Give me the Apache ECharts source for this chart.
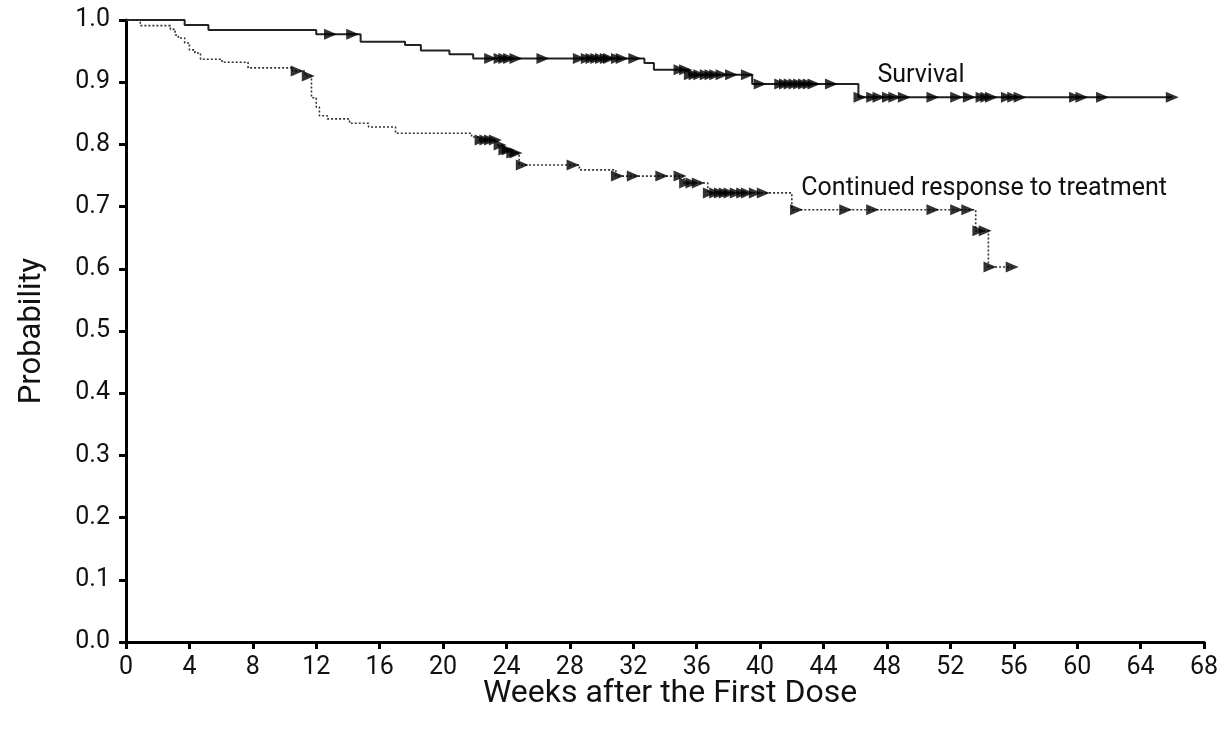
<!DOCTYPE html>
<html>
<head>
<meta charset="utf-8">
<script src="https://cdn.jsdelivr.net/npm/echarts@6/dist/echarts.min.js"></script>
<style>
html,body{margin:0;padding:0;background:#fff;}
#chart{width:1228px;height:731px;}
</style>
</head>
<body>
<div id="chart"></div>
<script>
// Kaplan-Meier step change points: [week, probability]
var survivalSteps = [
  [0,1.0],[3.7,0.992],[5.2,0.984],[12.0,0.977],[14.8,0.965],[17.6,0.960],
  [18.6,0.951],[20.4,0.945],[21.9,0.938],[32.7,0.931],[33.3,0.920],
  [35.5,0.912],[39.5,0.897],[46.2,0.876],[66.0,0.876]
];
var responseSteps = [
  [0,1.0],[0.9,0.991],[2.8,0.985],[3.1,0.976],[3.3,0.971],[3.7,0.963],
  [4.0,0.952],[4.35,0.947],[4.7,0.937],[6.05,0.932],[7.7,0.923],
  [10.5,0.918],[11.3,0.910],[11.7,0.875],[12.0,0.860],[12.2,0.846],
  [12.7,0.841],[14.1,0.834],[15.3,0.828],[17.0,0.818],[21.8,0.812],
  [22.3,0.807],[23.45,0.799],[23.85,0.791],[24.3,0.786],[24.8,0.767],
  [28.6,0.759],[30.9,0.749],[35.2,0.738],[36.7,0.722],[42.0,0.695],
  [53.6,0.661],[54.4,0.603],[55.9,0.603]
];
// Censoring times (weeks)
var survivalCensors = [
  12.9,14.3,23.0,23.6,23.9,24.2,24.6,26.3,28.6,29.1,29.4,29.7,30.0,30.3,30.5,
  31.0,31.3,32.1,34.95,35.3,35.6,35.9,36.2,36.6,36.9,37.2,37.6,38.2,39.2,
  40.0,41.3,41.6,41.9,42.2,42.5,42.8,43.1,43.4,44.5,46.3,47.1,47.5,48.1,48.5,
  49.1,50.9,52.4,53.2,54.0,54.3,54.6,55.6,56.0,56.4,59.9,60.3,61.6,66.0
];
var responseCensors = [
  10.8,11.5,22.4,22.7,23.0,23.3,23.6,23.9,24.1,24.4,24.6,25.0,28.2,
  31.0,32.0,33.8,34.95,35.3,35.7,36.1,36.8,37.2,37.5,37.8,38.1,38.5,38.9,
  39.2,39.7,40.2,42.3,45.4,47.1,50.9,52.4,53.1,53.8,54.2,54.5,55.9
];
var xTicks = {min:0, max:68, interval:4};
var yTicks = {min:0, max:1, interval:0.1};
var labels = [
  {text:'Survival', at:[47.4, 0.910]},
  {text:'Continued response to treatment', at:[42.6, 0.729]}
];

function valAt(steps, t){
  var v = steps[0][1];
  for (var i=0;i<steps.length;i++){ if (steps[i][0] <= t) v = steps[i][1]; }
  return v;
}
var survivalCensorPts = survivalCensors.map(function(t){return [t, valAt(survivalSteps,t)];});
var responseCensorPts = responseCensors.map(function(t){return [t, valAt(responseSteps,t)];});

var FONT = 'Roboto, "Liberation Sans", Arial, sans-serif';
var chart = echarts.init(document.getElementById('chart'));
var axisLineStyle = {color:'#000', width:3};
chart.setOption({
  animation:false,
  backgroundColor:'#fff',
  grid:{left:126, right:24, top:20, bottom:89, containLabel:false},
  xAxis:{
    type:'value', min:xTicks.min, max:xTicks.max, interval:xTicks.interval,
    name:'Weeks after the First Dose', nameLocation:'middle', nameGap:36,
    nameMoveOverlap:false,
    nameTextStyle:{fontSize:32, color:'#111', fontFamily:FONT, padding:[0,0,0,10]},
    axisLine:{show:true, onZero:false, lineStyle:axisLineStyle},
    axisTick:{show:true, length:7, lineStyle:{color:'#000', width:3}},
    axisLabel:{fontSize:25, color:'#111', margin:13, fontFamily:FONT},
    splitLine:{show:false}
  },
  yAxis:{
    type:'value', min:yTicks.min, max:yTicks.max, interval:yTicks.interval,
    name:'Probability', nameLocation:'middle', nameGap:78, nameRotate:90,
    nameMoveOverlap:false,
    nameTextStyle:{fontSize:31, color:'#111', fontFamily:FONT},
    axisLine:{show:true, onZero:false, lineStyle:axisLineStyle},
    axisTick:{show:true, length:7, lineStyle:{color:'#000', width:3}},
    axisLabel:{fontSize:25, color:'#111', margin:16, fontFamily:FONT,
      formatter:function(v){return v.toFixed(1);}},
    splitLine:{show:false}
  },
  series:[
    {type:'line', name:'Survival', data:survivalSteps, step:'end', symbol:'none',
     lineStyle:{color:'#222', width:2}, z:2},
    {type:'line', name:'Response', data:responseSteps, step:'end', symbol:'none',
     lineStyle:{color:'#333', width:1.6, type:[2,2]}, z:2},
    {type:'scatter', data:survivalCensorPts, symbol:'triangle', symbolRotate:-90,
     symbolSize:[11,13], itemStyle:{color:'#000'}, z:3},
    {type:'scatter', data:responseCensorPts, symbol:'triangle', symbolRotate:-90,
     symbolSize:[11,13], itemStyle:{color:'#000'}, z:3}
  ]
});
var g = labels.map(function(l){
  var p = chart.convertToPixel({gridIndex:0}, l.at);
  return {type:'text', x:p[0], y:p[1], style:{text:l.text, fill:'#111',
    font:'25px ' + FONT, textVerticalAlign:'middle', textAlign:'left'}};
});
chart.setOption({graphic:g});
</script>
</body>
</html>
